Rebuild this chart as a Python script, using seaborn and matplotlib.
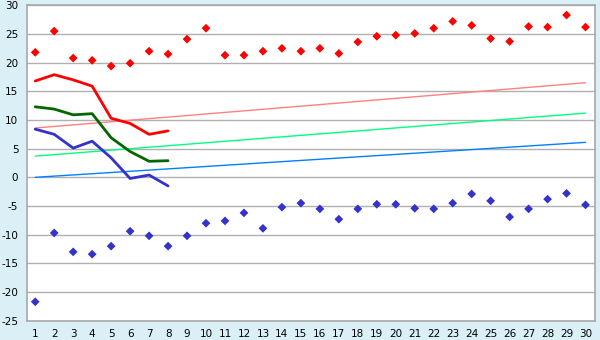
import matplotlib
matplotlib.use("Agg")
import matplotlib.pyplot as plt
import seaborn as sns
import pandas as pd

days = list(range(1, 31))
max_temp = [21.8, 25.5, 20.8, 20.4, 19.4, 19.9, 22.0, 21.5, 24.1, 26.0,
            21.3, 21.3, 22.0, 22.5, 22.0, 22.5, 21.6, 23.6, 24.6, 24.8,
            25.1, 26.0, 27.2, 26.5, 24.2, 23.7, 26.3, 26.2, 28.3, 26.2]
min_temp = [-21.7, -9.7, -13.0, -13.4, -12.0, -9.4, -10.2, -12.0, -10.2, -8.0,
            -7.6, -6.2, -8.9, -5.2, -4.5, -5.5, -7.3, -5.5, -4.7, -4.7,
            -5.4, -5.5, -4.5, -2.9, -4.1, -6.9, -5.5, -3.8, -2.8, -4.8]
line_days = [1, 2, 3, 4, 5, 6, 7, 8]
avg_max = [16.8, 17.9, 17.0, 15.9, 10.3, 9.4, 7.5, 8.1]
avg_mean = [12.3, 11.9, 10.9, 11.1, 6.9, 4.5, 2.8, 2.9]
avg_min = [8.4, 7.5, 5.1, 6.3, 3.4, -0.2, 0.4, -1.5]
trend_days = [1, 30]
trend_max = [8.6, 16.5]
trend_mean = [3.7, 11.2]
trend_min = [0.0, 6.1]
y_ticks = [-25, -20, -15, -10, -5, 0, 5, 10, 15, 20, 25, 30]

sns.set_style("white")
plt.rcParams['font.family'] = ['DejaVu Sans']
plt.rcParams['axes.unicode_minus'] = False

fig = plt.figure(figsize=(6, 3.4), dpi=100)
fig.patch.set_facecolor('#daf0f6')
ax = fig.add_axes([0.0445, 0.0568, 0.9472, 0.9276])
ax.set_facecolor('white')

for y in y_ticks:
    ax.axhline(y, color='#b0b0b0', lw=1, zorder=0)

tr = pd.DataFrame({'d': trend_days, 'mx': trend_max, 'me': trend_mean, 'mn': trend_min})
sns.lineplot(data=tr, x='d', y='mx', color='#ff8080', lw=1, ax=ax)
sns.lineplot(data=tr, x='d', y='me', color='#00ff80', lw=1, ax=ax)
sns.lineplot(data=tr, x='d', y='mn', color='#0080ff', lw=1, ax=ax)

ln = pd.DataFrame({'d': line_days, 'mx': avg_max, 'me': avg_mean, 'mn': avg_min})
sns.lineplot(data=ln, x='d', y='mx', color='#ff0000', lw=2, ax=ax)
sns.lineplot(data=ln, x='d', y='me', color='#006600', lw=2, ax=ax)
sns.lineplot(data=ln, x='d', y='mn', color='#3333cc', lw=2, ax=ax)

pts = pd.DataFrame({'d': days, 'mx': max_temp, 'mn': min_temp})
sns.scatterplot(data=pts, x='d', y='mx', color='#ff0000', marker='D', s=20,
                edgecolor='none', ax=ax, zorder=5)
sns.scatterplot(data=pts, x='d', y='mn', color='#3333cc', marker='D', s=20,
                edgecolor='none', ax=ax, zorder=5)

ax.set_xlim(0.55, 30.5)
ax.set_ylim(-25, 30)
ax.set_xticks(days)
ax.set_yticks(y_ticks)
ax.set_xlabel('')
ax.set_ylabel('')
for s in ax.spines.values():
    s.set_color('#a8a8a8')
    s.set_linewidth(1.2)
    s.set_visible(True)
ax.tick_params(axis='both', which='both', length=4, width=1, color='#202020',
               labelsize=7.5, labelcolor='black', pad=2, direction='out')
fig.savefig('out.png', dpi=100, facecolor=fig.get_facecolor())
